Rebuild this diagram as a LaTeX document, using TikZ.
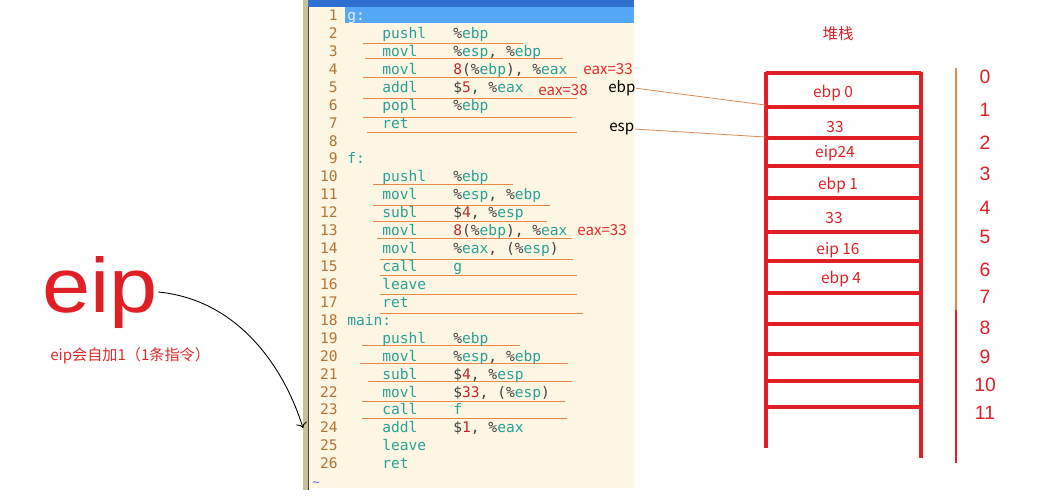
\documentclass[tikz,border=0pt]{standalone}
\usepackage{fontspec}
\usetikzlibrary{arrows.meta, positioning}
\newfontfamily\codefont{DejaVu Sans Mono}
\newfontfamily\cjk{Noto Sans CJK SC}
\newfontfamily\handfont{Liberation Sans}
\definecolor{cream}{HTML}{FDF6E3}
\definecolor{kw}{HTML}{2AA198}
\definecolor{lnumc}{HTML}{B87333}
\definecolor{punct}{HTML}{404040}
\definecolor{numred}{HTML}{C0282D}
\definecolor{annred}{HTML}{E02A2A}
\definecolor{stackred}{HTML}{E01F26}
\definecolor{undc}{HTML}{E8884A}
\definecolor{ptrc}{HTML}{D98A55}
\definecolor{barblue}{HTML}{2F6FCF}
\definecolor{hlblue}{HTML}{55A8F5}
\definecolor{khaki}{HTML}{C8C09A}
\newcommand\rg[1]{\textcolor{punct}{\%}\textcolor{kw}{#1}}
\newcommand\nm[1]{\textcolor{numred}{#1}}
\tikzset{
  lnum/.style={anchor=base east, inner sep=0pt, text=lnumc, font=\codefont\fontsize{8.3}{10}\selectfont},
  instr/.style={anchor=base west, inner sep=0pt, text=kw, font=\codefont\fontsize{8.3}{10}\selectfont},
  oper/.style={anchor=base west, inner sep=0pt, text=punct, font=\codefont\fontsize{8.3}{10}\selectfont},
  underln/.style={draw=undc, line width=0.45pt},
  note/.style={anchor=base west, inner sep=0pt, text=annred, font=\cjk\fontsize{8.6}{10}\selectfont},
  regname/.style={anchor=base west, inner sep=0pt, text=black, font=\cjk\fontsize{8.6}{10}\selectfont},
  cell/.style={inner sep=0pt, text=stackred, font=\cjk\fontsize{8.8}{10}\selectfont},
  stackline/.style={draw=stackred, line width=2.6pt},
  ptr/.style={draw=ptrc, line width=0.45pt},
  hand/.style={inner sep=0pt, text=stackred, font=\handfont\fontsize{11}{13}\selectfont},
  bigeip/.style={anchor=base west, inner sep=0pt, text=stackred, font=\handfont\fontsize{44}{50}\selectfont}
}

\begin{document}
\begin{tikzpicture}[x=0.02cm, y=-0.02cm]
  \useasboundingbox (0,0) rectangle (1037,500);
  % editor panel
  \fill[cream] (308,0) rectangle (634,488);
  \fill[khaki] (303,0) rectangle (308,490);
  \draw[punct, line width=0.7pt] (308.5,0) -- (308.5,490);
  \fill[barblue] (308,0) rectangle (634,7);
  \fill[hlblue] (345,7) rectangle (634,23);
  \node[anchor=base west, inner sep=0pt, text=blue!60, font=\codefont\fontsize{7}{8}\selectfont] (tilde) at (312,486) {\textasciitilde};

  % hand-drawn underlines
  \foreach \y/\a/\b in {43/363/523, 58/365/563, 77/363/577, 98/363/577, 117/363/572,
      132/367/577, 184/373/513, 205/373/550, 221/373/547, 238/377/572, 259/380/573,
      275/380/577, 294/380/577, 313/380/583, 345/362/520, 363/360/568, 381/368/572,
      401/362/565, 418/362/567}
    \draw[underln] (\a,\y) -- (\b,\y);

  % listing
  \foreach \n in {1,...,26}
    \node[lnum] (n\n) at (338,{20.5+17.93*(\n-1)}) {\n};
  \node[instr, text=blue!8] (lg) at (347,20.5) {g:};
  \node[instr] (lf) at (347,{20.5+17.93*8}) {f:};
  \node[instr] (lmain) at (347,{20.5+17.93*17}) {main:};
  \foreach \n/\ins/\opd in {2/pushl/\rg{ebp}, 3/movl/{\rg{esp}, \rg{ebp}},
      4/movl/{\nm{8}(\rg{ebp}), \rg{eax}}, 5/addl/{\$\nm{5}, \rg{eax}}, 6/popl/\rg{ebp}, 7/ret/{},
      10/pushl/\rg{ebp}, 11/movl/{\rg{esp}, \rg{ebp}}, 12/subl/{\$\nm{4}, \rg{esp}},
      13/movl/{\nm{8}(\rg{ebp}), \rg{eax}}, 14/movl/{\rg{eax}, (\rg{esp})}, 15/call/\textcolor{kw}{g},
      16/leave/{}, 17/ret/{},
      19/pushl/\rg{ebp}, 20/movl/{\rg{esp}, \rg{ebp}}, 21/subl/{\$\nm{4}, \rg{esp}},
      22/movl/{\$\nm{33}, (\rg{esp})}, 23/call/\textcolor{kw}{f}, 24/addl/{\$\nm{1}, \rg{eax}},
      25/leave/{}, 26/ret/{}}
  {
    \node[instr] (i\n) at (382,{20.5+17.93*(\n-1)}) {\ins};
    \node[oper] (o\n) at (453,{20.5+17.93*(\n-1)}) {\opd};
  }

  % notes on the listing
  \node[note] (eax4) at (583,74.5) {eax=33};
  \node[note] (eax5) at (538,95.5) {eax=38};
  \node[note] (eax13) at (577,235.5) {eax=33};
  \node[regname] (ebp) at (608,92.5) {ebp};
  \node[regname] (esp) at (609,131.5) {esp};

  % stack
  \node[cell] (title) at (838,34) {堆栈};
  \draw[stackline] (766,72) -- (766,448);
  \draw[stackline] (921,72) -- (921,458);
  \foreach \y in {73,107,138,166,198,232,261,293,324,354,381,407}
    \draw[stackline] (766,\y) -- (921,\y);
  \node[cell] (s0) at (833,93) {ebp 0};
  \node[cell] (s1) at (835,127) {33};
  \node[cell] (s2) at (835,153) {eip24};
  \node[cell] (s3) at (838,185) {ebp 1};
  \node[cell] (s4) at (834,218) {33};
  \node[cell] (s5) at (838,250) {eip 16};
  \node[cell] (s6) at (841,279) {ebp 4};
  \coordinate (ebpin) at (765,105);
  \coordinate (espin) at (765,137);
  \draw[ptr] (ebp.east) -- (ebpin);
  \draw[ptr] (esp.east) -- (espin);

  % slot numbers
  \draw[ptrc, line width=0.6pt] (956,68) -- (956,310);
  \draw[stackred, line width=0.6pt] (956,310) -- (956,463);
  \foreach \k/\y in {0/77, 1/110, 2/143, 3/174, 4/208, 5/237, 6/270, 7/297, 8/328, 9/357, 10/385, 11/413}
    \node[hand] (h\k) at (985,\y) {\k};

  % eip
  \node[bigeip, xscale=1.12] (eip) at (42,312) {eip};
  \node[note] (incr) at (50,360) {eip会自加1（1条指令）};
  \coordinate (hit) at (303,428);
  \draw[-{To[length=3pt]}, line width=0.5pt] (eip.east) .. controls (240,300) and (285,370) .. (hit);
\end{tikzpicture}
\end{document}
